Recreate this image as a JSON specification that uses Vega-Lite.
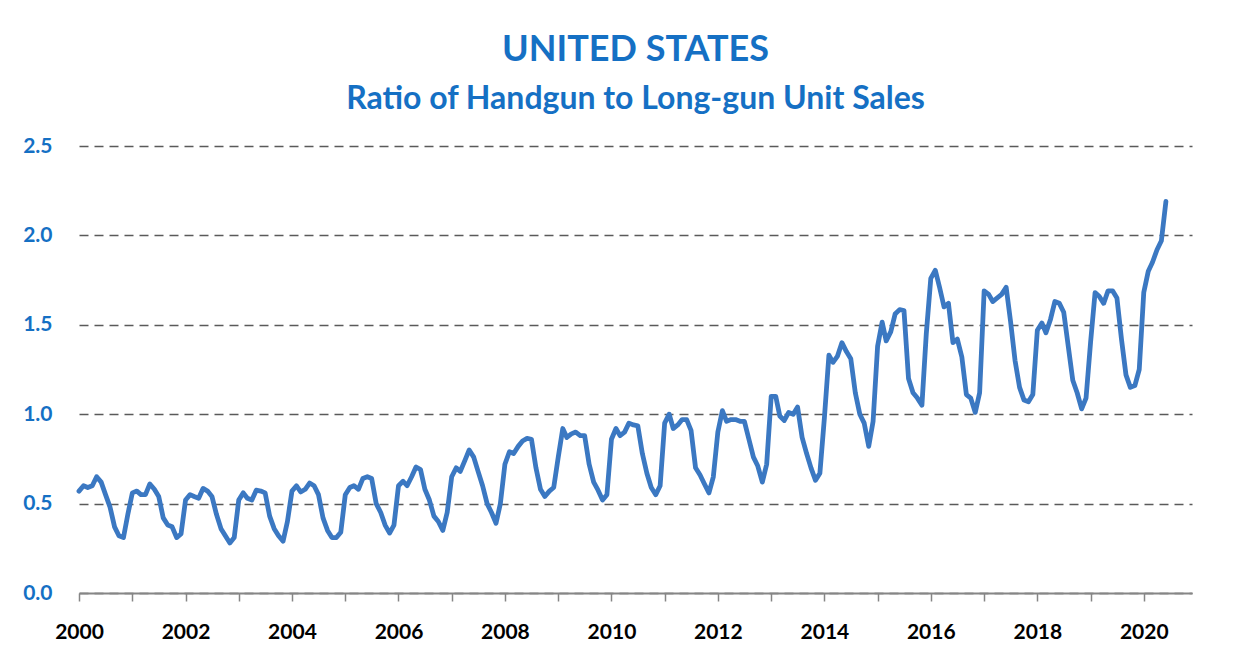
{
  "$schema": "https://vega.github.io/schema/vega-lite/v6.json",
  "autosize": "none",
  "width": 1113,
  "height": 447,
  "padding": {"left": 79, "top": 146, "right": 55, "bottom": 64},
  "background": "white",
  "title": {
    "text": "UNITED STATES",
    "subtitle": "Ratio of Handgun to Long-gun Unit Sales",
    "anchor": "middle",
    "font": "Lato",
    "fontSize": 36,
    "fontWeight": "bold",
    "color": "#1570C4",
    "subtitleFont": "Lato",
    "subtitleFontSize": 32,
    "subtitleFontWeight": "bold",
    "subtitleColor": "#1570C4",
    "subtitlePadding": 15,
    "offset": 19
  },
  "config": {
    "view": {"stroke": null},
    "axis": {"labelFont": "Lato", "labelFontWeight": "bold", "labelFontSize": 21}
  },
  "data": {
    "values": [
      {"date": "2000-01", "ratio": 0.57}, {"date": "2000-02", "ratio": 0.60}, {"date": "2000-03", "ratio": 0.59}, {"date": "2000-04", "ratio": 0.60}, {"date": "2000-05", "ratio": 0.65}, {"date": "2000-06", "ratio": 0.62}, {"date": "2000-07", "ratio": 0.55}, {"date": "2000-08", "ratio": 0.48}, {"date": "2000-09", "ratio": 0.37}, {"date": "2000-10", "ratio": 0.32}, {"date": "2000-11", "ratio": 0.31}, {"date": "2000-12", "ratio": 0.44},
      {"date": "2001-01", "ratio": 0.56}, {"date": "2001-02", "ratio": 0.57}, {"date": "2001-03", "ratio": 0.55}, {"date": "2001-04", "ratio": 0.55}, {"date": "2001-05", "ratio": 0.61}, {"date": "2001-06", "ratio": 0.58}, {"date": "2001-07", "ratio": 0.54}, {"date": "2001-08", "ratio": 0.42}, {"date": "2001-09", "ratio": 0.38}, {"date": "2001-10", "ratio": 0.37}, {"date": "2001-11", "ratio": 0.31}, {"date": "2001-12", "ratio": 0.33},
      {"date": "2002-01", "ratio": 0.52}, {"date": "2002-02", "ratio": 0.55}, {"date": "2002-03", "ratio": 0.54}, {"date": "2002-04", "ratio": 0.53}, {"date": "2002-05", "ratio": 0.585}, {"date": "2002-06", "ratio": 0.57}, {"date": "2002-07", "ratio": 0.54}, {"date": "2002-08", "ratio": 0.44}, {"date": "2002-09", "ratio": 0.36}, {"date": "2002-10", "ratio": 0.32}, {"date": "2002-11", "ratio": 0.28}, {"date": "2002-12", "ratio": 0.31},
      {"date": "2003-01", "ratio": 0.52}, {"date": "2003-02", "ratio": 0.56}, {"date": "2003-03", "ratio": 0.53}, {"date": "2003-04", "ratio": 0.52}, {"date": "2003-05", "ratio": 0.575}, {"date": "2003-06", "ratio": 0.57}, {"date": "2003-07", "ratio": 0.56}, {"date": "2003-08", "ratio": 0.43}, {"date": "2003-09", "ratio": 0.36}, {"date": "2003-10", "ratio": 0.32}, {"date": "2003-11", "ratio": 0.29}, {"date": "2003-12", "ratio": 0.40},
      {"date": "2004-01", "ratio": 0.57}, {"date": "2004-02", "ratio": 0.60}, {"date": "2004-03", "ratio": 0.565}, {"date": "2004-04", "ratio": 0.58}, {"date": "2004-05", "ratio": 0.615}, {"date": "2004-06", "ratio": 0.60}, {"date": "2004-07", "ratio": 0.55}, {"date": "2004-08", "ratio": 0.42}, {"date": "2004-09", "ratio": 0.35}, {"date": "2004-10", "ratio": 0.31}, {"date": "2004-11", "ratio": 0.31}, {"date": "2004-12", "ratio": 0.34},
      {"date": "2005-01", "ratio": 0.55}, {"date": "2005-02", "ratio": 0.59}, {"date": "2005-03", "ratio": 0.60}, {"date": "2005-04", "ratio": 0.58}, {"date": "2005-05", "ratio": 0.64}, {"date": "2005-06", "ratio": 0.65}, {"date": "2005-07", "ratio": 0.64}, {"date": "2005-08", "ratio": 0.50}, {"date": "2005-09", "ratio": 0.45}, {"date": "2005-10", "ratio": 0.38}, {"date": "2005-11", "ratio": 0.335}, {"date": "2005-12", "ratio": 0.38},
      {"date": "2006-01", "ratio": 0.60}, {"date": "2006-02", "ratio": 0.625}, {"date": "2006-03", "ratio": 0.60}, {"date": "2006-04", "ratio": 0.65}, {"date": "2006-05", "ratio": 0.705}, {"date": "2006-06", "ratio": 0.69}, {"date": "2006-07", "ratio": 0.58}, {"date": "2006-08", "ratio": 0.52}, {"date": "2006-09", "ratio": 0.43}, {"date": "2006-10", "ratio": 0.40}, {"date": "2006-11", "ratio": 0.35}, {"date": "2006-12", "ratio": 0.45},
      {"date": "2007-01", "ratio": 0.65}, {"date": "2007-02", "ratio": 0.70}, {"date": "2007-03", "ratio": 0.68}, {"date": "2007-04", "ratio": 0.74}, {"date": "2007-05", "ratio": 0.80}, {"date": "2007-06", "ratio": 0.76}, {"date": "2007-07", "ratio": 0.68}, {"date": "2007-08", "ratio": 0.60}, {"date": "2007-09", "ratio": 0.50}, {"date": "2007-10", "ratio": 0.45}, {"date": "2007-11", "ratio": 0.39}, {"date": "2007-12", "ratio": 0.50},
      {"date": "2008-01", "ratio": 0.72}, {"date": "2008-02", "ratio": 0.79}, {"date": "2008-03", "ratio": 0.78}, {"date": "2008-04", "ratio": 0.82}, {"date": "2008-05", "ratio": 0.85}, {"date": "2008-06", "ratio": 0.865}, {"date": "2008-07", "ratio": 0.86}, {"date": "2008-08", "ratio": 0.70}, {"date": "2008-09", "ratio": 0.58}, {"date": "2008-10", "ratio": 0.54}, {"date": "2008-11", "ratio": 0.57}, {"date": "2008-12", "ratio": 0.59},
      {"date": "2009-01", "ratio": 0.76}, {"date": "2009-02", "ratio": 0.92}, {"date": "2009-03", "ratio": 0.87}, {"date": "2009-04", "ratio": 0.89}, {"date": "2009-05", "ratio": 0.90}, {"date": "2009-06", "ratio": 0.88}, {"date": "2009-07", "ratio": 0.88}, {"date": "2009-08", "ratio": 0.72}, {"date": "2009-09", "ratio": 0.62}, {"date": "2009-10", "ratio": 0.575}, {"date": "2009-11", "ratio": 0.52}, {"date": "2009-12", "ratio": 0.55},
      {"date": "2010-01", "ratio": 0.86}, {"date": "2010-02", "ratio": 0.92}, {"date": "2010-03", "ratio": 0.88}, {"date": "2010-04", "ratio": 0.90}, {"date": "2010-05", "ratio": 0.95}, {"date": "2010-06", "ratio": 0.94}, {"date": "2010-07", "ratio": 0.935}, {"date": "2010-08", "ratio": 0.78}, {"date": "2010-09", "ratio": 0.67}, {"date": "2010-10", "ratio": 0.59}, {"date": "2010-11", "ratio": 0.55}, {"date": "2010-12", "ratio": 0.60},
      {"date": "2011-01", "ratio": 0.95}, {"date": "2011-02", "ratio": 1.00}, {"date": "2011-03", "ratio": 0.92}, {"date": "2011-04", "ratio": 0.94}, {"date": "2011-05", "ratio": 0.97}, {"date": "2011-06", "ratio": 0.97}, {"date": "2011-07", "ratio": 0.91}, {"date": "2011-08", "ratio": 0.70}, {"date": "2011-09", "ratio": 0.66}, {"date": "2011-10", "ratio": 0.61}, {"date": "2011-11", "ratio": 0.56}, {"date": "2011-12", "ratio": 0.65},
      {"date": "2012-01", "ratio": 0.90}, {"date": "2012-02", "ratio": 1.02}, {"date": "2012-03", "ratio": 0.96}, {"date": "2012-04", "ratio": 0.97}, {"date": "2012-05", "ratio": 0.97}, {"date": "2012-06", "ratio": 0.96}, {"date": "2012-07", "ratio": 0.96}, {"date": "2012-08", "ratio": 0.86}, {"date": "2012-09", "ratio": 0.76}, {"date": "2012-10", "ratio": 0.71}, {"date": "2012-11", "ratio": 0.62}, {"date": "2012-12", "ratio": 0.72},
      {"date": "2013-01", "ratio": 1.10}, {"date": "2013-02", "ratio": 1.10}, {"date": "2013-03", "ratio": 0.99}, {"date": "2013-04", "ratio": 0.965}, {"date": "2013-05", "ratio": 1.01}, {"date": "2013-06", "ratio": 1.00}, {"date": "2013-07", "ratio": 1.04}, {"date": "2013-08", "ratio": 0.87}, {"date": "2013-09", "ratio": 0.78}, {"date": "2013-10", "ratio": 0.70}, {"date": "2013-11", "ratio": 0.63}, {"date": "2013-12", "ratio": 0.67},
      {"date": "2014-01", "ratio": 0.98}, {"date": "2014-02", "ratio": 1.33}, {"date": "2014-03", "ratio": 1.29}, {"date": "2014-04", "ratio": 1.325}, {"date": "2014-05", "ratio": 1.40}, {"date": "2014-06", "ratio": 1.35}, {"date": "2014-07", "ratio": 1.31}, {"date": "2014-08", "ratio": 1.12}, {"date": "2014-09", "ratio": 1.00}, {"date": "2014-10", "ratio": 0.95}, {"date": "2014-11", "ratio": 0.82}, {"date": "2014-12", "ratio": 0.96},
      {"date": "2015-01", "ratio": 1.38}, {"date": "2015-02", "ratio": 1.515}, {"date": "2015-03", "ratio": 1.41}, {"date": "2015-04", "ratio": 1.46}, {"date": "2015-05", "ratio": 1.56}, {"date": "2015-06", "ratio": 1.585}, {"date": "2015-07", "ratio": 1.58}, {"date": "2015-08", "ratio": 1.20}, {"date": "2015-09", "ratio": 1.12}, {"date": "2015-10", "ratio": 1.09}, {"date": "2015-11", "ratio": 1.05}, {"date": "2015-12", "ratio": 1.45},
      {"date": "2016-01", "ratio": 1.76}, {"date": "2016-02", "ratio": 1.805}, {"date": "2016-03", "ratio": 1.71}, {"date": "2016-04", "ratio": 1.60}, {"date": "2016-05", "ratio": 1.62}, {"date": "2016-06", "ratio": 1.40}, {"date": "2016-07", "ratio": 1.42}, {"date": "2016-08", "ratio": 1.32}, {"date": "2016-09", "ratio": 1.11}, {"date": "2016-10", "ratio": 1.09}, {"date": "2016-11", "ratio": 1.01}, {"date": "2016-12", "ratio": 1.12},
      {"date": "2017-01", "ratio": 1.69}, {"date": "2017-02", "ratio": 1.67}, {"date": "2017-03", "ratio": 1.63}, {"date": "2017-04", "ratio": 1.65}, {"date": "2017-05", "ratio": 1.67}, {"date": "2017-06", "ratio": 1.71}, {"date": "2017-07", "ratio": 1.52}, {"date": "2017-08", "ratio": 1.30}, {"date": "2017-09", "ratio": 1.15}, {"date": "2017-10", "ratio": 1.08}, {"date": "2017-11", "ratio": 1.07}, {"date": "2017-12", "ratio": 1.11},
      {"date": "2018-01", "ratio": 1.47}, {"date": "2018-02", "ratio": 1.51}, {"date": "2018-03", "ratio": 1.455}, {"date": "2018-04", "ratio": 1.53}, {"date": "2018-05", "ratio": 1.63}, {"date": "2018-06", "ratio": 1.62}, {"date": "2018-07", "ratio": 1.57}, {"date": "2018-08", "ratio": 1.38}, {"date": "2018-09", "ratio": 1.19}, {"date": "2018-10", "ratio": 1.12}, {"date": "2018-11", "ratio": 1.03}, {"date": "2018-12", "ratio": 1.09},
      {"date": "2019-01", "ratio": 1.40}, {"date": "2019-02", "ratio": 1.68}, {"date": "2019-03", "ratio": 1.66}, {"date": "2019-04", "ratio": 1.62}, {"date": "2019-05", "ratio": 1.69}, {"date": "2019-06", "ratio": 1.69}, {"date": "2019-07", "ratio": 1.65}, {"date": "2019-08", "ratio": 1.42}, {"date": "2019-09", "ratio": 1.22}, {"date": "2019-10", "ratio": 1.15}, {"date": "2019-11", "ratio": 1.16}, {"date": "2019-12", "ratio": 1.25},
      {"date": "2020-01", "ratio": 1.68}, {"date": "2020-02", "ratio": 1.80}, {"date": "2020-03", "ratio": 1.85}, {"date": "2020-04", "ratio": 1.92}, {"date": "2020-05", "ratio": 1.97}, {"date": "2020-06", "ratio": 2.19}
    ]
  },
  "mark": {"type": "line", "color": "#3B78C2", "strokeWidth": 4.8, "strokeJoin": "round", "strokeCap": "round"},
  "encoding": {
    "x": {
      "field": "date",
      "type": "temporal",
      "scale": {"type": "utc", "domain": ["2000-01-01", "2020-11-27"]},
      "axis": {
        "title": null,
        "grid": false,
        "tickCount": {"interval": "year", "step": 1},
        "labelExpr": "utcyear(datum.value) % 2 === 0 ? utcFormat(datum.value, '%Y') : ''",
        "labelOverlap": false,
        "labelFlush": false,
        "labelColor": "#000000",
        "labelPadding": 20,
        "domainColor": "#868686",
        "domainWidth": 2,
        "tickColor": "#868686",
        "tickWidth": 1.5,
        "tickSize": 8
      }
    },
    "y": {
      "field": "ratio",
      "type": "quantitative",
      "scale": {"domain": [0, 2.5]},
      "axis": {
        "title": null,
        "values": [0, 0.5, 1, 1.5, 2, 2.5],
        "format": ".1f",
        "domain": false,
        "ticks": false,
        "tickSize": 0,
        "labelPadding": 27,
        "labelColor": "#1570C4",
        "gridColor": "#5A5A5A",
        "gridDash": [9, 6],
        "gridWidth": 1.5
      }
    }
  }
}
